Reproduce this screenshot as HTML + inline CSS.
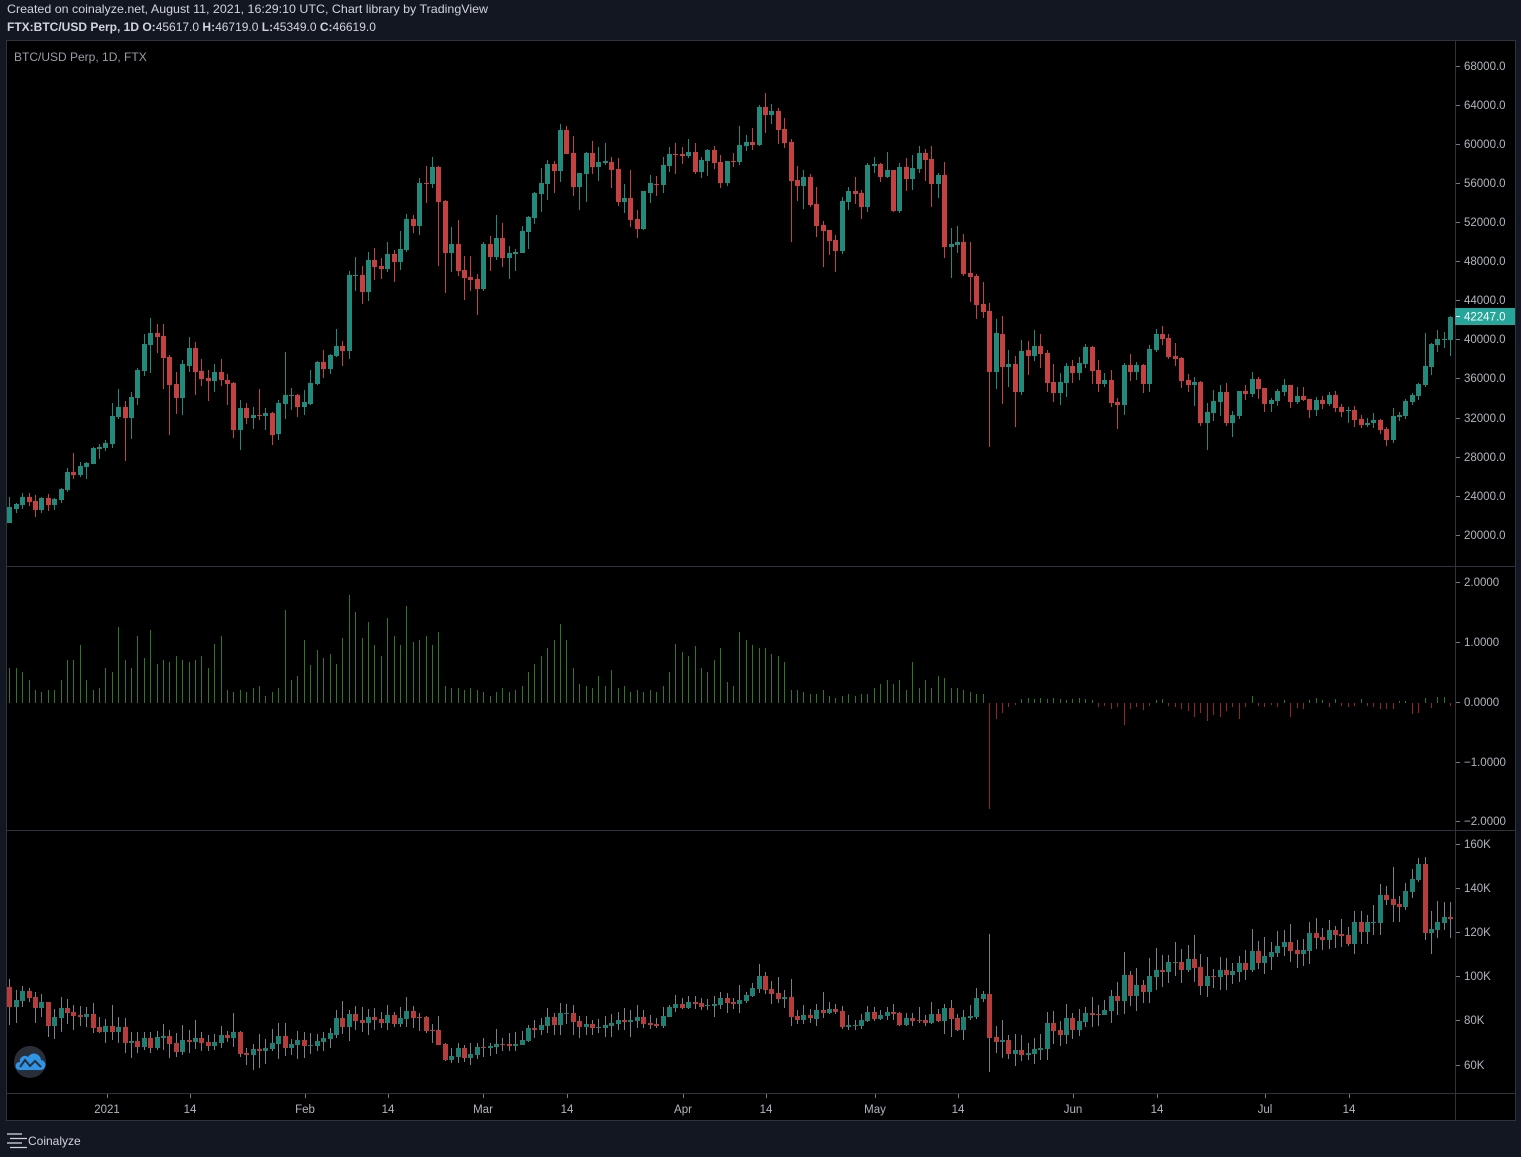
<!DOCTYPE html>
<html><head><meta charset="utf-8">
<style>
html,body{margin:0;padding:0;background:#131722;width:1521px;height:1157px;overflow:hidden}
svg{position:absolute;left:0;top:0;font-family:"Liberation Sans",sans-serif}
</style></head>
<body>
<svg id="s" width="1521" height="1157" viewBox="0 0 1521 1157" xmlns="http://www.w3.org/2000/svg">
<rect x="0" y="0" width="1521" height="1157" fill="#131722"/>
<text x="7" y="13" font-size="12" fill="#d1d4dc" textLength="481" lengthAdjust="spacingAndGlyphs">Created on coinalyze.net, August 11, 2021, 16:29:10 UTC, Chart library by TradingView</text>
<text x="7" y="31" font-size="12" fill="#d1d4dc"><tspan font-weight="bold">FTX:BTC/USD Perp, 1D O:</tspan>45617.0 <tspan font-weight="bold">H:</tspan>46719.0 <tspan font-weight="bold">L:</tspan>45349.0 <tspan font-weight="bold">C:</tspan>46619.0</text>
<rect x="6.5" y="40.5" width="1509" height="1080" fill="#000" stroke="#2f333e" stroke-width="1"/>
<g stroke="#2f333e" stroke-width="1">
<line x1="7" y1="566.5" x2="1515" y2="566.5"/>
<line x1="7" y1="830.5" x2="1515" y2="830.5"/>
<line x1="7" y1="1093.5" x2="1515" y2="1093.5"/>
<line x1="1455.5" y1="41" x2="1455.5" y2="1120"/>
</g>
<text x="14" y="61" font-size="12" fill="#9a9da6">BTC/USD Perp, 1D, FTX</text>
<g id="c"></g>
<g id="ax" font-size="11.5" fill="#b2b5be"></g>
<g>
<rect x="1455" y="308" width="60" height="17" fill="#26a69a"/>
<line x1="1456" y1="316.5" x2="1460" y2="316.5" stroke="#fff"/>
<text x="1464" y="320.5" font-size="11.5" fill="#ffffff">42247.0</text>
</g>
<circle cx="30" cy="1062" r="16" fill="#2a2e39"/>
<path d="M19,1070 h21 a5,5 0 0 0 1,-10 a7,7 0 0 0 -13,-3 a5,5 0 0 0 -8,5 a4,4 0 0 0 -1,8z" fill="#2f95e6"/>
<polyline points="20,1067 25,1060 30,1066 35,1061 41,1067" fill="none" stroke="#2a2e39" stroke-width="2"/>
<g stroke="#d1d4dc" stroke-width="1.3">
<line x1="7" y1="1134" x2="22" y2="1134"/>
<line x1="10" y1="1138.5" x2="27" y2="1138.5"/>
<line x1="7" y1="1143" x2="22" y2="1143"/>
<line x1="10" y1="1147.5" x2="27" y2="1147.5"/>
</g>
<text x="28" y="1145" font-size="12" fill="#d1d4dc">Coinalyze</text>
</svg>
<script>
(function(){
const NS='http://www.w3.org/2000/svg';
const g=document.getElementById('c');
const ax=document.getElementById('ax');
function R(x,y,w,h,f,p){const e=document.createElementNS(NS,'rect');e.setAttribute('x',x);e.setAttribute('y',y);e.setAttribute('width',w);e.setAttribute('height',Math.max(h,1));e.setAttribute('fill',f);(p||g).appendChild(e);}
function T(x,y,s,a){const e=document.createElementNS(NS,'text');e.setAttribute('x',x);e.setAttribute('y',y);if(a)e.setAttribute('text-anchor',a);e.textContent=s;ax.appendChild(e);}
function L(x1,y1,x2,y2,c){const e=document.createElementNS(NS,'line');e.setAttribute('x1',x1);e.setAttribute('y1',y1);e.setAttribute('x2',x2);e.setAttribute('y2',y2);e.setAttribute('stroke',c);g.appendChild(e);}
const X=i=>Math.round(9.3+6.404*i);
const GC='#22897b',RC='#c44141',GC2='#1f7f72',RC2='#b63c3c',WK='#7d8089';
function candles(arr,start,off,wc){arr.forEach((d,k)=>{const i=start+k,x=X(i);const col=d[0]?(wc?GC2:GC):(wc?RC2:RC);
const bt=Math.round(off+d[1]/3),bb=Math.round(off+d[2]/3),wt=Math.round(off+d[3]/3),wb=Math.round(off+d[4]/3);
R(x,wt,1,wb-wt,wc||col);R(x-2,bt,5,bb-bt,col);});}
const A=[[1,591,638,562,640],[1,582,596,580,608],[1,561,584,549,597],[0,561,576,549,587],[0,573,599,555,620],[1,564,599,562,608],[0,564,585,552,602],[1,567,584,564,600],[1,537,569,535,578],[1,486,540,474,545],[0,486,495,429,506],[1,468,495,457,500],[1,459,470,456,506],[1,414,461,412,462],[1,410,416,402,447],[1,399,413,390,422],[1,318,401,279,413],[1,291,321,237,326],[0,291,323,273,452],[1,261,323,246,386],[1,180,263,174,284],[1,102,182,72,197],[1,69,104,24,188],[0,69,80,42,128],[0,78,143,42,236],[0,141,224,135,374],[0,222,263,186,311],[1,162,263,150,314],[1,114,167,81,185],[0,114,185,96,254],[0,183,206,147,227],[0,204,212,180,272],[1,186,212,162,245],[0,186,209,147,227],[0,210,221,192,284],[0,219,359,216,383],[1,294,359,270,419],[0,294,323,279,341],[1,315,323,291,356],[0,315,317,237,329],[1,309,317,294,359],[0,309,374,306,404],[1,279,371,270,389],[1,255,281,126,326],[1,255,257,234,299],[0,255,290,252,320],[1,276,290,240,314],[1,219,281,180,284],[1,156,221,153,224],[0,156,177,120,203],[1,135,176,132,191],[1,108,137,57,140],[0,108,122,93,167]];
const B=[[1,480,707,468,731],[1,480,482,426,527],[0,480,530,453,566],[1,435,530,411,557],[0,435,455,399,494],[0,453,461,429,491],[1,417,461,381,470],[0,417,440,405,500],[1,402,440,348,464],[1,312,405,297,410],[0,312,332,300,353],[1,204,332,189,359],[0,204,206,153,263],[1,156,206,126,218],[0,156,260,153,452],[0,258,413,255,533],[1,387,413,336,470],[0,387,467,315,482],[0,465,488,423,554],[0,486,494,423,527],[0,492,521,477,599],[1,387,521,381,527],[0,387,425,363,467],[1,369,425,300,434],[0,369,428,324,455],[1,414,428,393,491],[1,410,416,402,467],[1,348,413,333,413],[1,306,350,303,401],[1,234,308,231,326],[1,204,236,159,290],[1,147,206,135,254],[0,147,167,138,233],[1,45,167,27,200],[0,45,116,33,116],[0,114,215,63,242],[1,174,215,174,284],[1,114,176,111,260],[0,114,155,78,176],[1,141,155,96,197],[1,138,143,84,149],[0,141,164,126,218],[0,162,260,129,272],[1,249,260,207,293],[0,249,314,165,335],[0,312,341,285,368],[1,228,341,228,344],[1,204,233,180,263],[0,207,209,183,242],[1,150,209,126,233],[1,117,152,96,170],[0,117,119,84,176],[0,117,122,96,146],[1,111,122,72,128],[0,111,170,84,176],[1,135,170,126,188],[1,105,137,102,182]];
const C=[[0,186,224,174,242],[0,222,284,201,299],[1,219,284,219,293],[0,218,221,195,237],[1,171,221,114,230],[1,162,173,141,188],[0,162,170,120,185],[1,57,170,51,173],[0,57,80,15,134],[1,69,80,48,107],[0,69,125,60,167],[0,123,164,90,179],[0,162,278,153,461],[0,276,293,234,338],[1,267,293,246,362],[0,267,350,258,356],[0,348,413,297,446],[0,411,428,399,536],[0,426,458,426,500],[0,456,488,441,551],[1,339,488,327,497],[1,309,341,297,365],[0,309,317,267,347],[0,315,356,306,392],[1,231,356,225,371],[1,228,233,207,254],[0,228,266,225,281],[1,246,266,192,269],[0,246,369,246,371],[1,237,369,225,374],[0,237,272,210,308],[1,240,272,201,305],[1,195,242,174,254],[0,195,215,183,278],[0,213,287,174,356],[1,261,287,255,329],[0,261,476,222,509],[1,468,476,420,569],[1,462,470,414,494],[0,462,557,438,563],[0,555,566,462,641],[0,564,650,558,692],[0,648,671,582,689],[0,669,851,645,1076],[1,735,851,693,902],[0,738,836,684,947],[1,828,836,786,896],[0,828,911,804,1016],[1,789,911,756,920],[0,786,803,759,860],[1,774,803,726,818],[0,774,797,738,839],[0,795,884,786,911],[0,882,914,828,941],[1,882,914,855,950]];
const D=[[1,168,218,159,260],[0,168,188,150,218],[1,159,188,141,209],[1,111,161,102,173],[0,111,182,108,221],[0,180,221,150,245],[1,210,221,189,230],[0,210,278,180,290],[0,276,284,264,356],[1,165,284,159,314],[0,165,185,132,212],[1,165,185,156,209],[0,165,221,162,248],[1,117,221,105,245],[1,72,119,57,125],[0,72,86,48,104],[0,84,140,72,146],[0,138,146,99,167],[0,144,212,141,233],[0,210,224,192,245],[1,216,224,201,287],[0,216,338,213,347],[1,306,338,279,419],[1,273,308,240,332],[1,246,275,225,317],[0,246,338,219,347],[1,315,338,303,380],[1,243,317,243,326],[0,243,251,225,269],[1,207,251,186,260],[0,207,236,201,266],[0,234,281,234,305],[1,270,281,264,305],[1,243,272,237,287],[1,225,245,207,257],[0,225,275,225,293],[1,258,275,231,281],[0,258,269,231,272],[0,267,299,267,323],[1,270,299,261,317],[0,270,281,258,296],[1,255,281,246,287],[0,255,293,243,305],[0,291,305,282,320],[1,299,304,291,338],[0,300,329,288,350],[0,327,344,315,353],[1,338,344,324,350],[1,330,338,309,353],[0,330,359,327,371],[0,357,389,351,407],[1,318,389,294,398],[1,315,320,306,332],[1,273,318,267,326],[1,255,275,249,284],[1,222,257,219,269],[1,168,225,69,230],[1,102,170,99,194],[1,87,104,60,125],[1,86,89,66,113],[1,21,89,18,137]];
candles(A,0,310);candles(B,53,115);candles(C,110,88);candles(D,165,310);
const E=[[0,51,111,27,165],[1,90,111,60,158],[1,63,93,48,111],[0,63,84,54,95],[0,81,114,66,158],[1,96,114,72,140],[0,96,168,96,200],[1,141,168,117,207],[1,114,144,81,186],[0,114,129,87,162],[0,126,138,105,180],[0,135,141,108,168],[1,132,141,111,170],[0,132,173,99,190],[0,171,186,141,190],[1,168,186,147,218],[0,168,186,105,210],[1,171,186,141,218],[0,171,219,144,250],[1,213,219,186,263],[0,213,231,186,250],[1,204,231,186,240],[0,204,234,186,250],[1,201,234,183,240],[1,198,204,162,240],[0,198,222,180,263],[0,219,246,189,260],[1,210,246,165,256],[0,210,216,180,250],[1,204,216,150,237],[0,204,219,186,243],[0,216,228,195,243],[1,216,228,192,240],[1,195,219,168,235],[0,195,204,183,216],[1,186,204,129,230],[0,186,251,183,260],[0,249,255,234,285],[1,237,255,222,299],[0,237,243,192,294],[1,234,243,207,283],[1,219,237,177,243],[1,198,222,159,266],[0,198,234,158,258],[1,222,234,207,256],[1,210,225,183,266],[0,210,228,186,263],[1,225,228,189,251],[1,213,228,192,242],[1,204,216,186,242],[1,189,207,174,235],[1,144,195,120,204],[0,144,171,93,191],[1,132,171,120,213],[0,132,152,108,179],[0,150,159,111,186],[1,141,159,117,194],[0,141,150,114,180],[0,147,159,126,174],[1,135,159,105,180],[0,135,162,126,170],[1,144,162,111,170],[1,123,147,81,170],[0,123,144,108,175],[0,141,144,129,182],[0,141,183,138,189],[0,180,183,162,220],[0,180,225,138,226],[0,222,270,219,272],[1,258,270,234,280],[1,234,261,219,278],[0,234,264,225,276],[1,252,264,219,286],[1,231,255,219,266],[0,231,234,204,260],[1,228,234,219,258],[1,222,231,176,252],[0,222,225,204,244],[0,222,228,189,242],[1,222,228,186,242],[1,210,225,183,226],[1,174,213,165,216],[0,174,180,150,204],[1,165,180,144,194],[1,141,168,114,190],[0,141,165,129,194],[1,129,165,99,196],[1,129,132,102,162],[0,129,156,104,196],[0,153,171,138,204],[1,162,171,138,196],[0,162,174,150,196],[1,171,174,147,190],[1,165,174,138,200],[1,159,168,132,200],[1,150,162,126,180],[0,150,156,114,180],[1,150,156,120,200],[1,141,153,105,174],[0,141,162,120,174],[0,159,165,135,176],[0,162,168,144,174],[1,138,168,111,174],[1,111,141,105,141],[1,102,114,75,126],[0,102,114,84,118],[1,96,114,78,118],[0,96,102,78,118],[0,99,111,84,120],[1,105,108,87,120],[1,102,108,78,140],[1,84,105,66,118]];
const F=[[0,444,459,429,489],[0,456,461,444,476],[1,450,461,405,489],[1,435,453,426,459],[1,414,438,399,441],[1,378,417,342,429],[0,378,420,366,432],[0,417,432,393,462],[0,429,447,381,459],[1,441,447,420,474],[0,441,501,387,528],[0,498,510,480,522],[1,495,510,465,522],[0,495,504,477,519],[1,480,507,462,528],[0,480,489,426,504],[1,477,489,456,492],[0,477,486,462,492],[0,483,531,468,537],[1,525,531,495,540],[1,525,528,510,540],[1,510,528,492,537],[1,486,513,468,516],[0,486,507,471,513],[1,495,507,480,510],[1,486,498,471,510],[0,486,492,462,510],[0,489,525,486,528],[1,504,525,489,528],[0,504,513,489,528],[0,510,513,471,519],[0,510,519,495,528],[1,492,519,456,522],[0,492,513,477,516],[1,474,513,462,552],[0,474,507,450,561],[0,504,540,492,543],[1,501,540,480,570],[1,498,504,465,510],[1,444,501,414,507],[1,432,447,423,456],[0,432,564,252,666],[0,561,576,528,609],[1,570,576,510,624],[0,570,612,555,627],[1,600,612,552,648],[0,600,615,555,633],[1,609,615,579,630],[1,597,612,564,642],[1,594,600,552,630],[1,519,597,486,630],[0,519,543,483,582],[0,540,555,513,588],[1,504,555,462,582],[0,504,540,489,567],[1,513,540,477,558],[1,489,516,471,531],[0,489,495,441,531],[0,492,495,465,528],[1,480,495,450,495],[1,438,483,420,519],[0,438,453,396,495],[1,375,453,306,492],[0,375,438,363,468],[1,405,438,354,483],[0,405,426,390,459],[1,378,426,324,459],[1,360,381,294,420],[0,360,366,315,411],[1,336,366,315,399],[1,336,339,276,378],[0,336,360,297,399],[1,327,360,285,366],[0,327,354,255,396],[0,351,408,312,435],[1,378,408,321,441],[0,378,381,357,414],[1,360,381,321,420],[0,360,375,324,420],[1,363,375,339,402],[1,339,366,318,396],[0,339,360,300,390],[1,303,360,237,366],[0,303,339,273,357],[1,318,339,261,372],[1,306,321,276,360],[1,288,309,243,321],[1,276,291,240,318],[0,276,303,222,336],[0,300,312,270,354],[1,300,312,267,348],[1,249,303,216,342],[0,249,264,204,297],[0,261,270,234,300],[1,240,270,210,297],[0,240,255,228,294],[0,252,258,207,290],[0,255,282,231,288],[1,216,282,183,312],[0,216,246,183,282],[1,216,246,195,282],[1,216,219,165,255],[1,135,219,102,255],[0,135,150,108,165],[0,147,165,51,216],[0,162,171,138,216],[1,123,171,99,180],[1,87,126,57,144],[1,42,90,24,96],[0,42,248,21,270],[1,237,248,183,312],[1,216,240,153,264],[1,201,219,156,240],[0,201,207,156,264]];
candles(E,0,970,WK);candles(F,112,850,WK);
const M=[668,668,672,680,690,692,690,690,680,660,660,645,680,690,688,668,672,627,660,668,636,658,630,664,660,662,656,660,662,660,656,668,644,636,690,692,690,692,688,686,696,692,688,610,680,676,640,665,650,658,654,664,638,595,612,638,622,645,656,618,636,645,606,642,640,636,645,632,686,688,688,690,688,690,692,696,692,688,692,690,686,672,664,656,648,640,624,640,668,684,686,688,676,686,670,688,686,692,690,692,690,692,686,672,644,652,656,646,668,672,660,648,682,686,632,640,645,648,648,654,656,662,690,690,692,694,694,690,696,698,696,694,696,694,694,688,684,680,684,680,690,662,688,680,688,676,678,688,688,690,692,694,694,808,718,712,706,704,699,698,699,698,699,698,699,700,699,698,699,700,706,705,708,706,724,708,706,709,705,700,699,705,706,708,710,716,712,720,714,716,710,706,718,706,696,705,706,704,706,700,716,707,708,700,698,700,706,699,705,706,705,699,705,706,708,708,708,701,701,713,712,698,707,697,697,705];
const Z=702.5;
M.forEach((v,i)=>{const x=X(i);if(v<Z){R(x,Math.round(v),1,Math.round(Z-v),'#2c7a1f');}else{R(x,703,1,Math.round(v-Z),'#952626');}});
const pl=[[68000,66],[64000,105],[60000,144],[56000,183],[52000,222],[48000,261],[44000,300],[40000,339],[36000,378],[32000,418],[28000,457],[24000,496],[20000,535]];
pl.forEach(p=>{L(1456,p[1]+0.5,1460,p[1]+0.5,'#787b86');T(1464,p[1]+4,p[0]+'.0');});
const ml=[['2.0000',582],['1.0000',642],['0.0000',702],['\u22121.0000',762],['\u22122.0000',821]];
ml.forEach(p=>{L(1456,p[1]+0.5,1460,p[1]+0.5,'#787b86');T(1464,p[1]+4,p[0]);});
const ol=[['160K',844],['140K',888],['120K',932],['100K',976],['80K',1020],['60K',1065]];
ol.forEach(p=>{L(1456,p[1]+0.5,1460,p[1]+0.5,'#787b86');T(1464,p[1]+4,p[0]);});
const tl=[['2021',107],['14',190],['Feb',305],['14',388],['Mar',483],['14',567],['Apr',683],['14',766],['May',875],['14',958],['Jun',1073],['14',1157],['Jul',1265],['14',1349]];
tl.forEach(p=>{L(p[1]+0.5,1094,p[1]+0.5,1098,'#787b86');T(p[1],1113,p[0],'middle');});
})();
</script>
</body></html>
